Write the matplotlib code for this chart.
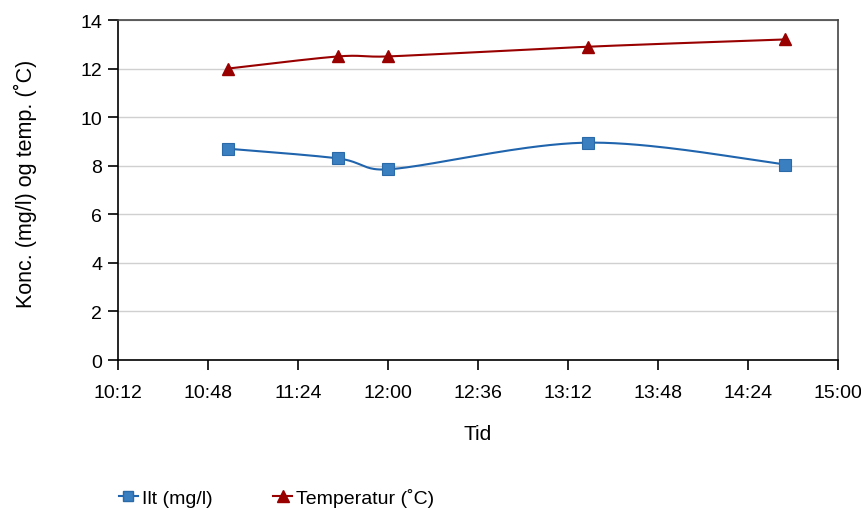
import numpy as np
import matplotlib
matplotlib.use("Agg")
import matplotlib.pyplot as plt

# Data
times = ["10:56", "11:40", "12:00", "13:20", "14:39"]
ilt = [8.7, 8.3, 7.85, 8.95, 8.05]
temperatur = [12.0, 12.5, 12.5, 12.9, 13.2]
tick_labels = ["10:12", "10:48", "11:24", "12:00", "12:36", "13:12", "13:48", "14:24", "15:00"]
y_ticks = [0, 2, 4, 6, 8, 10, 12, 14]


def to_minutes(t):
    h, m = t.split(":")
    return int(h) * 60 + int(m)


def excel_smooth(ax, x, y, n=40):
    # Bezier smoothing like Excel's "smoothed line", done in pixel space
    pts = ax.transData.transform(np.column_stack([x, y]))
    p = np.vstack([pts[0], pts, pts[-1]])
    out = []
    t = np.linspace(0, 1, n)[:, None]
    for i in range(1, len(p) - 2):
        p0, p1, p2, p3 = p[i - 1], p[i], p[i + 1], p[i + 2]
        d12 = np.hypot(*(p2 - p1))
        d02 = np.hypot(*(p2 - p0))
        d13 = np.hypot(*(p3 - p1))
        f = 1 / 6 if d02 / 6 < d12 / 2 else d12 / (2 * d02)
        g = 1 / 6 if d13 / 6 < d12 / 2 else d12 / (2 * d13)
        c1 = p1 + f * (p2 - p0)
        c2 = p2 - g * (p3 - p1)
        seg = (1 - t) ** 3 * p1 + 3 * (1 - t) ** 2 * t * c1 + 3 * (1 - t) * t ** 2 * c2 + t ** 3 * p2
        out.append(seg)
    out = np.vstack(out)
    back = ax.transData.inverted().transform(out)
    return back[:, 0], back[:, 1]


plt.rcParams["font.family"] = ["Liberation Sans", "DejaVu Sans"]

x = [to_minutes(t) for t in times]
x_ticks = [to_minutes(t) for t in tick_labels]

fig = plt.figure(figsize=(8.62, 5.10), dpi=100)
ax = fig.add_axes([118 / 862, 1 - 361 / 510, 720 / 862, 340 / 510])
ax.set_xlim(x_ticks[0], x_ticks[-1])
ax.set_ylim(0, 14)

blue_line = "#1f64ad"
blue_fill = "#3a7fc0"
red = "#990000"

sx, sy = excel_smooth(ax, x, ilt)
ax.plot(sx, sy, color=blue_line, linewidth=1.5, zorder=3)
ax.plot(x, ilt, linestyle="none", marker="s", markersize=8, markerfacecolor=blue_fill,
        markeredgecolor="#2a6aa8", markeredgewidth=0.8, zorder=4)

sx, sy = excel_smooth(ax, x, temperatur)
ax.plot(sx, sy, color=red, linewidth=1.5, zorder=3)
ax.plot(x, temperatur, linestyle="none", marker="^", markersize=9, color=red, zorder=4)

# legend handles
ax.plot([], [], color=blue_line, marker="s", markersize=7, markerfacecolor=blue_fill,
        markeredgecolor="#2a6aa8", linewidth=1.5, label="Ilt (mg/l)")
ax.plot([], [], color=red, marker="^", markersize=8, linewidth=1.5, label="Temperatur (˚C)")

ax.set_xticks(x_ticks)
ax.set_xticklabels(tick_labels)
ax.set_yticks(y_ticks)

ax.grid(True, axis="y", color="#d0d0d0", linewidth=1)
ax.set_axisbelow(True)

for side in ["left", "bottom"]:
    ax.spines[side].set_color("black")
    ax.spines[side].set_linewidth(1.2)
for side in ["top", "right"]:
    ax.spines[side].set_color("#444444")
    ax.spines[side].set_linewidth(1.2)

ax.tick_params(axis="both", direction="out", length=7.5, width=1.2, labelsize=14, colors="black")
ax.tick_params(axis="x", pad=10)
ax.tick_params(axis="y", pad=4)

ax.set_xlabel("Tid", fontsize=15, labelpad=16)
ax.set_ylabel("Konc. (mg/l) og temp. (˚C)", fontsize=15.5)
ax.yaxis.set_label_coords(-0.113, 0.52)

ax.legend(loc="center left", bbox_to_anchor=(-0.01, -0.405), ncol=2, frameon=False,
          fontsize=14, handlelength=1.0, handletextpad=0.2, columnspacing=3.1,
          borderaxespad=0)

fig.savefig("out.png", dpi=100)
